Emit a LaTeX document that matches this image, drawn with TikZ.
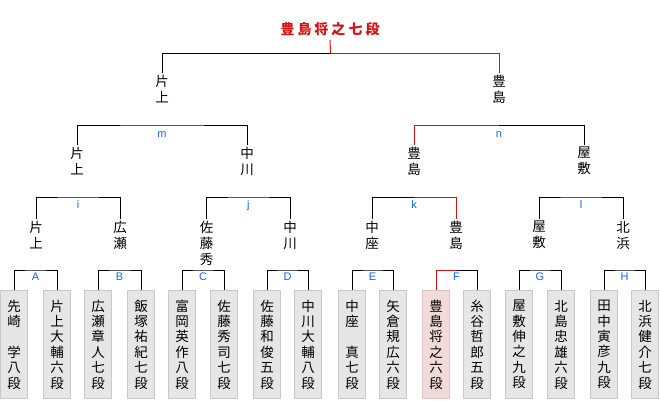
\documentclass[tikz,border=0pt]{standalone}
\usepackage{fontspec}
\setmainfont{Liberation Sans}
\newfontfamily\jp{Noto Sans CJK JP}
\definecolor{wincol}{RGB}{210,20,20}
\definecolor{labcol}{RGB}{20,100,240}
\definecolor{boxfill}{RGB}{230,230,230}
\definecolor{boxline}{RGB}{200,200,200}
\definecolor{winfill}{RGB}{242,218,218}
\definecolor{winbox}{RGB}{228,192,192}
\begin{document}
\begin{tikzpicture}[x=1pt,y=-1pt,
  conn/.style={line width=1pt, draw=black},
  wconn/.style={line width=1pt, draw=wincol},
  leafbox/.style={draw=boxline, fill=boxfill, line width=1pt, minimum width=27pt,
    minimum height=108pt, inner sep=0pt, anchor=north, align=center,
    font=\jp\fontsize{13.5}{15.4}\selectfont},
  wleafbox/.style={leafbox, draw=winbox, fill=winfill},
  pname/.style={inner xsep=0pt, inner ysep=2pt, anchor=north, align=center,
    font=\jp\fontsize{13.5}{16}\selectfont},
  lbl/.style={text=labcol, font=\fontsize{11}{11}\selectfont, anchor=base, inner sep=0pt},
]
\useasboundingbox (0,0) rectangle (660,400);

% leaves
\node[leafbox]  (a1) at (14,290)  {先\\崎\\　\\学\\八\\段};
\node[leafbox]  (a2) at (57,290)  {片\\上\\大\\輔\\六\\段};
\node[leafbox]  (b1) at (98,290)  {広\\瀬\\章\\人\\七\\段};
\node[leafbox]  (b2) at (141,290) {飯\\塚\\祐\\紀\\七\\段};
\node[leafbox]  (c1) at (182,290) {富\\岡\\英\\作\\八\\段};
\node[leafbox]  (c2) at (224,290) {佐\\藤\\秀\\司\\七\\段};
\node[leafbox]  (d1) at (267,290) {佐\\藤\\和\\俊\\五\\段};
\node[leafbox]  (d2) at (308,290) {中\\川\\大\\輔\\八\\段};
\node[leafbox]  (e1) at (352,290) {中\\座\\　\\真\\七\\段};
\node[leafbox]  (e2) at (393,290) {矢\\倉\\規\\広\\六\\段};
\node[wleafbox] (f1) at (436,290) {豊\\島\\将\\之\\六\\段};
\node[leafbox]  (f2) at (477,290) {糸\\谷\\哲\\郎\\五\\段};
\node[leafbox]  (g1) at (519,290) {屋\\敷\\伸\\之\\九\\段};
\node[leafbox]  (g2) at (561,290) {北\\島\\忠\\雄\\六\\段};
\node[leafbox]  (h1) at (604,290) {田\\中\\寅\\彦\\九\\段};
\node[leafbox]  (h2) at (645,290) {北\\浜\\健\\介\\七\\段};

% level 1 names
\node[pname] (i1) at (36,219)    {片\\上};
\node[pname] (i2) at (120,219)   {広\\瀬};
\node[pname] (j1) at (206.5,219) {佐\\藤\\秀};
\node[pname] (j2) at (290,219)   {中\\川};
\node[pname] (k1) at (372,219)   {中\\座};
\node[pname] (k2) at (456,219)   {豊\\島};
\node[pname] (l1) at (539,219)   {屋\\敷};
\node[pname] (l2) at (623,219)   {北\\浜};

% level 2 names
\node[pname] (m1) at (77,145)  {片\\上};
\node[pname] (m2) at (247,145) {中\\川};
\node[pname] (n1) at (414,145) {豊\\島};
\node[pname] (n2) at (584,145) {屋\\敷};

% level 3 names
\node[pname] (p1) at (162,73) {片\\上};
\node[pname] (p2) at (499,73) {豊\\島};

% title
\node[inner sep=4pt, text=wincol, font=\jp\bfseries\fontsize{14}{14}\selectfont] (title) at (330,29)
  {豊\hspace{3pt}島\hspace{3pt}将\hspace{3pt}之\hspace{3pt}七\hspace{3pt}段};

% bracket centres
\coordinate (bA) at (35.5,270);
\coordinate (bB) at (119.5,270);
\coordinate (bC) at (203,270);
\coordinate (bD) at (287.5,270);
\coordinate (bE) at (372.5,270);
\coordinate (bF) at (456.5,270);
\coordinate (bG) at (540,270);
\coordinate (bH) at (624.5,270);
\coordinate (bi) at (78,197);
\coordinate (bj) at (248.25,197);
\coordinate (bk) at (414,197);
\coordinate (bl) at (581,197);
\coordinate (bm) at (162,125);
\coordinate (bn) at (499,125);
\coordinate (bt) at (330.5,53);

% black connectors
\draw[conn] (a1.north) |- (bA) -| (a2.north);
\draw[conn] (b1.north) |- (bB) -| (b2.north);
\draw[conn] (c1.north) |- (bC) -| (c2.north);
\draw[conn] (d1.north) |- (bD) -| (d2.north);
\draw[conn] (e1.north) |- (bE) -| (e2.north);
\draw[conn] (bF) -| (f2.north);
\draw[conn] (g1.north) |- (bG) -| (g2.north);
\draw[conn] (h1.north) |- (bH) -| (h2.north);
\draw[conn] (i1.north) |- (bi) -| (i2.north);
\draw[conn] (j1.north) |- (bj) -| (j2.north);
\draw[conn] (k1.north) |- (bk);
\draw[conn] (l1.north) |- (bl) -| (l2.north);
\draw[conn] (m1.north) |- (bm) -| (m2.north);
\draw[conn] (bn) -| (n2.north);
\draw[conn] (p1.north) |- (bt);

% winner path
\draw[wconn] (f1.north) |- (bF);
\draw[wconn] (bk) -| (k2.north);
\draw[wconn] (n1.north) |- (bn);
\draw[wconn] (bt) -| (p2.north);
\draw[wconn] (title.south) -- (bt);

% labels
\foreach \c/\t in {bA/A,bB/B,bC/C,bD/D,bE/E,bF/F,bG/G,bH/H}
  \node[lbl] at ([yshift=-10pt]\c) {\t};
\foreach \c/\t in {bi/i,bj/j,bk/k,bl/l}
  \node[lbl] at ([yshift=-11pt]\c) {\t};
\foreach \c/\t in {bm/m,bn/n}
  \node[lbl] at ([yshift=-12pt]\c) {\t};
\end{tikzpicture}
\end{document}
